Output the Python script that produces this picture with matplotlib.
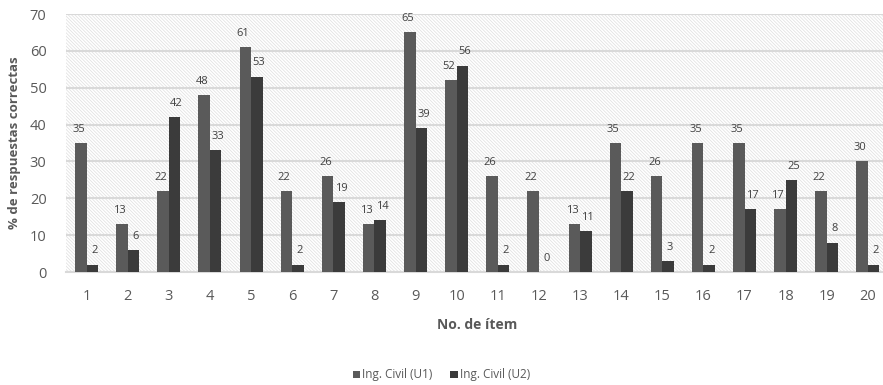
import matplotlib.pyplot as plt
import matplotlib.patches as mpatches
import numpy as np

plt.rcParams['font.family'] = ['Open Sans', 'DejaVu Sans']
plt.rcParams['hatch.linewidth'] = 0.5

# datos por ítem
items = [str(i) for i in range(1, 21)]
u1 = [35, 13, 22, 48, 61, 22, 26, 13, 65, 52, 26, 22, 13, 35, 26, 35, 35, 17, 22, 30]
u2 = [2, 6, 42, 33, 53, 2, 19, 14, 39, 56, 2, 0, 11, 22, 3, 2, 17, 25, 8, 2]
series_names = ['Ing. Civil (U1)', 'Ing. Civil (U2)']
y_ticks = [0, 10, 20, 30, 40, 50, 60, 70]

c_u1 = '#5a5a5a'
c_u2 = '#3b3b3b'
c_text = '#595959'
c_grid = '#d9d9d9'

fig = plt.figure(figsize=(8.83, 3.85), dpi=100)
ax = fig.add_axes([0.0747, 0.2935, 0.9315, 0.6701])

x = np.arange(1, len(items) + 1)
w = 0.28

# fondo rayado del área de trazado
bg = mpatches.Rectangle((0, 0), 1, 1, transform=ax.transAxes, facecolor='white',
                        edgecolor='#dedede', hatch='\\' * 10, linewidth=0, zorder=0)
ax.add_patch(bg)

b1 = ax.bar(x - w / 2, u1, w, color=c_u1, label=series_names[0], zorder=3)
b2 = ax.bar(x + w / 2, u2, w, color=c_u2, label=series_names[1], zorder=3)

# etiquetas de valor, un poco separadas entre series
for bars, vals, dx in ((b1, u1, -1.5), (b2, u2, 1.5)):
    for r, v in zip(bars, vals):
        ax.annotate(str(v), (r.get_x() + r.get_width() / 2, v), xytext=(dx, 6),
                    textcoords='offset points', ha='center', va='bottom',
                    fontsize=8, color='#404040', zorder=4)

ax.set_xlim(0.5, 20.5)
ax.set_ylim(0, 70)
ax.set_xticks(x)
ax.set_xticklabels(items)
ax.set_yticks(y_ticks)
ax.yaxis.grid(True, color=c_grid, linewidth=1.5, zorder=1)
ax.set_axisbelow(True)

for s in ['top', 'right', 'left']:
    ax.spines[s].set_visible(False)
ax.spines['bottom'].set_color(c_grid)
ax.spines['bottom'].set_linewidth(1.5)
ax.tick_params(axis='both', length=0, labelsize=10.5, labelcolor=c_text)
ax.tick_params(axis='x', pad=12)
ax.tick_params(axis='y', pad=14)

ax.set_xlabel('No. de ítem', fontsize=10, fontweight='bold', color=c_text, labelpad=10)
ax.set_ylabel('% de respuestas correctas', fontsize=9.5, fontweight='bold', color=c_text, labelpad=6)

fig.legend(handles=[b1, b2], labels=series_names, loc='center', bbox_to_anchor=(0.5, 0.026),
           ncol=2, frameon=False, fontsize=8.5, labelcolor=c_text, handlelength=0.6,
           handleheight=0.6, handletextpad=0.2, columnspacing=1.5)

fig.savefig('out.png', dpi=100)
